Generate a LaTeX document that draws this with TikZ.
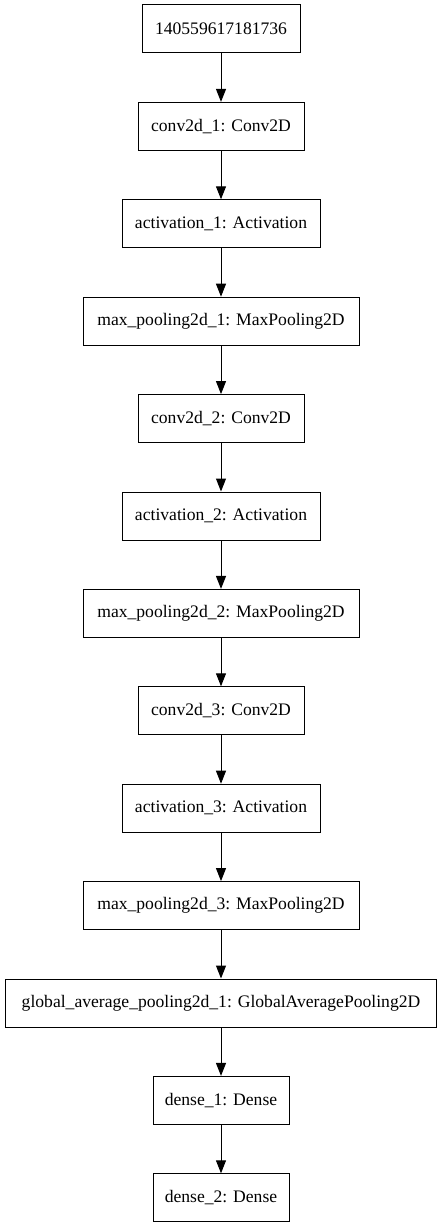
\documentclass[tikz,border=0pt]{standalone}
\usepackage{fontspec}
\setmainfont{Liberation Serif}
\usetikzlibrary{arrows.meta}
\tikzset{
  layer/.style={draw, line width=1pt, minimum height=48pt, inner sep=0pt, font=\fontsize{17.6pt}{20pt}\selectfont},
  conn/.style={line width=1pt, -{Triangle[length=13pt,width=10pt]}}
}
\begin{document}
\begin{tikzpicture}[x=1pt,y=1pt]
\useasboundingbox (0,0) rectangle (441,-1228);
\def\sp{97.4}
\node[layer, minimum width=158pt] (n0) at (221,-29) {140559617181736};
\node[layer, minimum width=166pt] (n1) at (221,{-29-\sp}) {conv2d\_1: Conv2D};
\node[layer, minimum width=198pt] (n2) at (221,{-29-2*\sp}) {activation\_1: Activation};
\node[layer, minimum width=276pt] (n3) at (221,{-29-3*\sp}) {max\_pooling2d\_1: MaxPooling2D};
\node[layer, minimum width=166pt] (n4) at (221,{-29-4*\sp}) {conv2d\_2: Conv2D};
\node[layer, minimum width=198pt] (n5) at (221,{-29-5*\sp}) {activation\_2: Activation};
\node[layer, minimum width=276pt] (n6) at (221,{-29-6*\sp}) {max\_pooling2d\_2: MaxPooling2D};
\node[layer, minimum width=166pt] (n7) at (221,{-29-7*\sp}) {conv2d\_3: Conv2D};
\node[layer, minimum width=198pt] (n8) at (221,{-29-8*\sp}) {activation\_3: Activation};
\node[layer, minimum width=276pt] (n9) at (221,{-29-9*\sp}) {max\_pooling2d\_3: MaxPooling2D};
\node[layer, minimum width=431pt] (n10) at (221,{-29-10*\sp}) {global\_average\_pooling2d\_1: GlobalAveragePooling2D};
\node[layer, minimum width=136pt] (n11) at (221,{-29-11*\sp}) {dense\_1: Dense};
\node[layer, minimum width=136pt] (n12) at (221,{-29-12*\sp}) {dense\_2: Dense};
\foreach \a/\b in {n0/n1,n1/n2,n2/n3,n3/n4,n4/n5,n5/n6,n6/n7,n7/n8,n8/n9,n9/n10,n10/n11,n11/n12}
  \draw[conn] (\a) -- (\b);
\end{tikzpicture}
\end{document}
